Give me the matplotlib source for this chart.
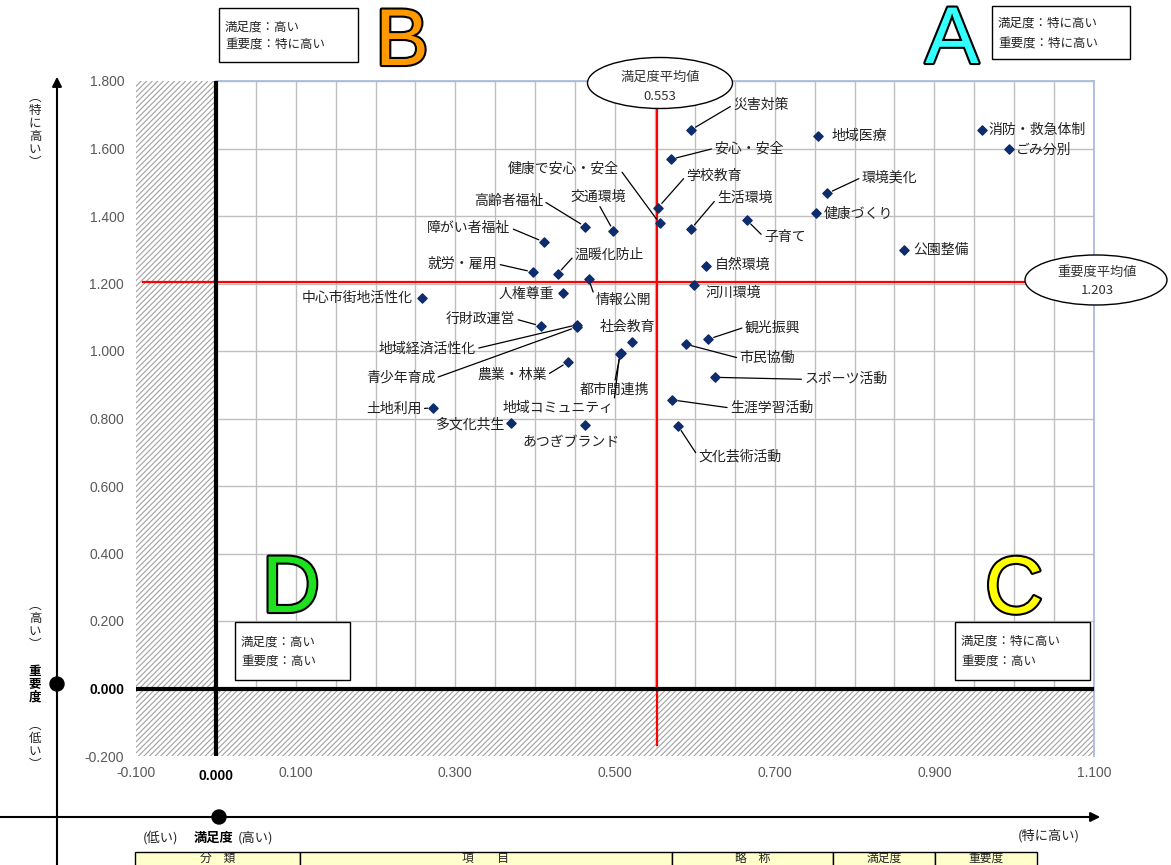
import numpy as np
import matplotlib
matplotlib.use("Agg")
import matplotlib.pyplot as plt
from matplotlib.patches import Rectangle, Ellipse, FancyArrowPatch
from matplotlib.ticker import MultipleLocator
from matplotlib import patheffects as pe

plt.rcParams['font.family'] = ['Noto Sans CJK JP', 'DejaVu Sans']
plt.rcParams['hatch.linewidth'] = 0.8

# --- data ---
labels = [
    "災害対策", "安心・安全", "学校教育", "健康で安心・安全", "生活環境",
    "子育て", "高齢者福祉", "交通環境", "障がい者福祉", "就労・雇用",
    "温暖化防止", "情報公開", "自然環境", "河川環境", "人権尊重",
    "中心市街地活性化", "行財政運営", "地域経済活性化", "青少年育成", "社会教育",
    "都市間連携", "地域コミュニティ", "農業・林業", "土地利用", "多文化共生",
    "あつぎブランド", "観光振興", "市民協働", "スポーツ活動", "生涯学習活動",
    "文化芸術活動", "地域医療", "消防・救急体制", "ごみ分別", "環境美化",
    "健康づくり", "公園整備",
]
satisfaction = [
    0.595, 0.570, 0.554, 0.556, 0.595,
    0.665, 0.463, 0.498, 0.411, 0.397,
    0.428, 0.467, 0.614, 0.599, 0.435,
    0.258, 0.407, 0.453, 0.452, 0.521,
    0.507, 0.506, 0.441, 0.272, 0.370,
    0.463, 0.617, 0.589, 0.625, 0.572,
    0.579, 0.754, 0.960, 0.994, 0.766,
    0.752, 0.862,
]
importance = [
    1.655, 1.568, 1.425, 1.378, 1.361,
    1.388, 1.368, 1.356, 1.323, 1.234,
    1.228, 1.213, 1.252, 1.195, 1.173,
    1.158, 1.074, 1.078, 1.071, 1.028,
    0.995, 0.992, 0.967, 0.832, 0.786,
    0.781, 1.035, 1.020, 0.922, 0.855,
    0.778, 1.638, 1.655, 1.599, 1.467,
    1.408, 1.298,
]
sat_mean = 0.553
imp_mean = 1.203
xtick_vals = [-0.1, 0.1, 0.3, 0.5, 0.7, 0.9, 1.1]
ytick_vals = [-0.2, 0.0, 0.2, 0.4, 0.6, 0.8, 1.0, 1.2, 1.4, 1.6, 1.8]

# label placement: (dx px, dy px, leader line?)
label_layout = [
    (70, 25, True), (78, 11, True), (56, 32, True), (-96, 55, True), (54, 31, True),
    (38, -17, True), (-77, 26, True), (-15, 34, True), (-75, 14, True), (-70, 8, True),
    (52, 19, True), (35, -21, True), (36, 1, False), (39, -8, False), (-37, -1, False),
    (-65, 0, False), (-60, 7, True), (-150, -24, True), (-176, -51, True), (-4, 15, False),
    (-6, -37, True), (-62, -54, True), (-56, -13, True), (-39, -1, True), (-41, -1, False),
    (-14, -17, False), (64, 12, True), (81, -14, True), (131, -2, True), (99, -8, True),
    (62, -31, True), (42, 0, False), (55, 0, False), (34, -1, False), (62, 16, True),
    (42, -1, False), (37, 0, False),
]

W, H = 1171, 865


def fx(px):
    return px / W


def fy(py):
    return 1 - py / H


fig = plt.figure(figsize=(W / 100, H / 100), dpi=100)
fig.patch.set_facecolor('white')
ax = fig.add_axes([fx(136), fy(756), (1094 - 136) / W, (756 - 81) / H])

ax.set_xlim(-0.1, 1.1)
ax.set_ylim(-0.2, 1.8)
for s in ax.spines.values():
    s.set_visible(False)

# grid
ax.set_xticks(xtick_vals)
ax.xaxis.set_minor_locator(MultipleLocator(0.05))
ax.set_yticks(ytick_vals)
ax.set_axisbelow(True)
ax.grid(which='both', axis='x', color='#bfbfbf', lw=1.0)
ax.grid(which='major', axis='y', color='#bfbfbf', lw=1.0)
ax.tick_params(which='both', length=0)
ax.tick_params(axis='x', pad=7)
ax.tick_params(axis='y', pad=8.5)

ax.set_xticklabels([f"{v:.3f}" for v in xtick_vals])
ax.set_yticklabels([f"{v:.3f}" for v in ytick_vals])
for lbl in ax.get_xticklabels() + ax.get_yticklabels():
    lbl.set_fontfamily('Liberation Sans')
    lbl.set_fontsize(10)
    lbl.set_color('#595959')
ylbl0 = ax.get_yticklabels()[ytick_vals.index(0.0)]
ylbl0.set_fontweight('bold')
ylbl0.set_color('black')
ax.annotate("0.000", xy=(0, 0), xycoords=('data', 'axes fraction'),
            xytext=(0, -20), textcoords='offset pixels', ha='center', va='center',
            fontsize=10, fontweight='bold', family='Liberation Sans')

# hatched "low" zones
ax.add_patch(Rectangle((-0.1, -0.2), 0.1, 2.0, facecolor='white',
                       edgecolor='#a0a0a0', hatch='//////', lw=0, zorder=1))
ax.add_patch(Rectangle((-0.1, -0.2), 1.2, 0.2, facecolor='white',
                       edgecolor='#a0a0a0', hatch='//////', lw=0, zorder=1))

# plot frame (top / right)
ax.plot([0, 1.1], [1.8, 1.8], color='#a9bcdf', lw=1.3, clip_on=False, zorder=2)
ax.plot([1.1, 1.1], [-0.2, 1.8], color='#a9bcdf', lw=1.3, clip_on=False, zorder=2)

# zero axes
ax.axvline(0, color='black', lw=3, zorder=4)
ax.axhline(0, color='black', lw=3, zorder=4)

# average lines
ax.plot([sat_mean, sat_mean], [-0.167, 1.8], color='red', lw=1.6, zorder=3)
ax.plot([-0.091, 1.1], [imp_mean, imp_mean], color='red', lw=1.6, zorder=3)

# points
ax.scatter(satisfaction, importance, marker='D', s=22, color='#0d2c6c', zorder=7)

for name, sx, iy, (dx, dy, lead) in zip(labels, satisfaction, importance, label_layout):
    arrow = None
    if lead:
        # leader leaves from the label side facing the point
        if abs(dx) >= 30:
            rel = (0.0 if dx > 0 else 1.0, 0.5)
        else:
            rel = (0.5, 0.0 if dy > 0 else 1.0)
        arrow = dict(arrowstyle='-', color='black', lw=0.9, shrinkA=0, shrinkB=4,
                     relpos=rel)
    ax.annotate(name, (sx, iy), xytext=(dx, dy), textcoords='offset pixels',
                ha='center', va='center', fontsize=10, color='#222222',
                arrowprops=arrow, zorder=6)

# average callouts
fig.add_artist(Ellipse((fx(660), fy(83)), 145 / W, 51 / H, transform=fig.transFigure,
                       facecolor='white', edgecolor='black', lw=1.0, zorder=3))
fig.text(fx(660), fy(77), "満足度平均値", ha='center', va='center', fontsize=9.5, color='#333333')
fig.text(fx(660), fy(96), f"{sat_mean:.3f}", ha='center', va='center', fontsize=9.5, color='#333333')
fig.add_artist(Ellipse((fx(1096), fy(280)), 142 / W, 50 / H, transform=fig.transFigure,
                       facecolor='white', edgecolor='black', lw=1.0, zorder=3))
fig.text(fx(1097), fy(272), "重要度平均値", ha='center', va='center', fontsize=9.5, color='#333333')
fig.text(fx(1097), fy(290), f"{imp_mean:.3f}", ha='center', va='center', fontsize=9.5, color='#333333')

# quadrant letters
letters = [("A", 952, 63, '#33ffff'), ("B", 402, 65, '#ff9900'),
           ("C", 1014, 613, '#ffff00'), ("D", 291, 612, '#1fe01f')]
for ch, px, py, col in letters:
    fig.text(fx(px), fy(py), ch, ha='center', va='baseline', fontsize=58,
             family='Liberation Sans', color=col, zorder=4,
             path_effects=[pe.withStroke(linewidth=3, foreground='black')])

# quadrant boxes
boxes = [
    ((219, 8, 358, 62), (27, 44), "満足度：高い", "重要度：特に高い"),
    ((992, 6, 1130, 59), (23, 43), "満足度：特に高い", "重要度：特に高い"),
    ((235, 622, 350, 680), (642, 661), "満足度：高い", "重要度：高い"),
    ((955, 622, 1090, 680), (641, 661), "満足度：特に高い", "重要度：高い"),
]
for (x0, y0, x1, y1), (t1, t2), s1, s2 in boxes:
    fig.add_artist(Rectangle((fx(x0), fy(y1)), (x1 - x0) / W, (y1 - y0) / H,
                             transform=fig.transFigure, facecolor='white',
                             edgecolor='black', lw=1.0, zorder=3))
    fig.text(fx(x0 + 6), fy(t1), s1, ha='left', va='center', fontsize=9, color='#222222', zorder=4)
    fig.text(fx(x0 + 6), fy(t2), s2, ha='left', va='center', fontsize=9, color='#222222', zorder=4)

# outer arrows
fig.add_artist(FancyArrowPatch((fx(57), fy(870)), (fx(57), fy(74)), transform=fig.transFigure,
                               arrowstyle='-|>', mutation_scale=14, lw=1.5, color='black'))
fig.add_artist(FancyArrowPatch((fx(-5), fy(817)), (fx(1103), fy(817)), transform=fig.transFigure,
                               arrowstyle='-|>', mutation_scale=14, lw=1.5, color='black'))
fig.add_artist(Ellipse((fx(57), fy(684)), 14 / W, 14 / H, transform=fig.transFigure, color='black'))
fig.add_artist(Ellipse((fx(219), fy(817)), 14 / W, 14 / H, transform=fig.transFigure, color='black'))

# axis captions
fig.text(fx(35), fy(130), "\n".join("︵特に高い︶"), ha='center', va='center', fontsize=9,
         linespacing=1.0, color='#222222')
fig.text(fx(35), fy(625), "\n".join("︵高い︶"), ha='center', va='center', fontsize=9,
         linespacing=1.0, color='#222222')
fig.text(fx(35), fy(684), "\n".join("重要度"), ha='center', va='center', fontsize=9,
         linespacing=1.0, fontweight='bold')
fig.text(fx(35), fy(745), "\n".join("︵低い︶"), ha='center', va='center', fontsize=9,
         linespacing=1.0, color='#222222')
fig.text(fx(143), fy(838), "(低い)", ha='left', va='center', fontsize=9.5, color='#222222')
fig.text(fx(194), fy(838), "満足度", ha='left', va='center', fontsize=9.5, fontweight='bold')
fig.text(fx(238), fy(838), "(高い)", ha='left', va='center', fontsize=9.5, color='#222222')
fig.text(fx(1049), fy(836), "(特に高い)", ha='center', va='center', fontsize=9.5, color='#222222')

# table header (runs off the bottom edge)
table_cols = ["分　類", "項　　目", "略　称", "満足度", "重要度"]
col_edges = [135, 300, 672, 833, 935, 1037]
for i, head in enumerate(table_cols):
    x0, x1 = col_edges[i], col_edges[i + 1]
    fig.add_artist(Rectangle((fx(x0), fy(880)), (x1 - x0) / W, 28 / H,
                             transform=fig.transFigure, facecolor='#ffffcc',
                             edgecolor='black', lw=1.0, zorder=3))
    fig.text(fx((x0 + x1) / 2), fy(858.5), head, ha='center', va='center',
             fontsize=8.5, color='#222222', zorder=4)

fig.savefig("out.png", dpi=100, facecolor='white')
